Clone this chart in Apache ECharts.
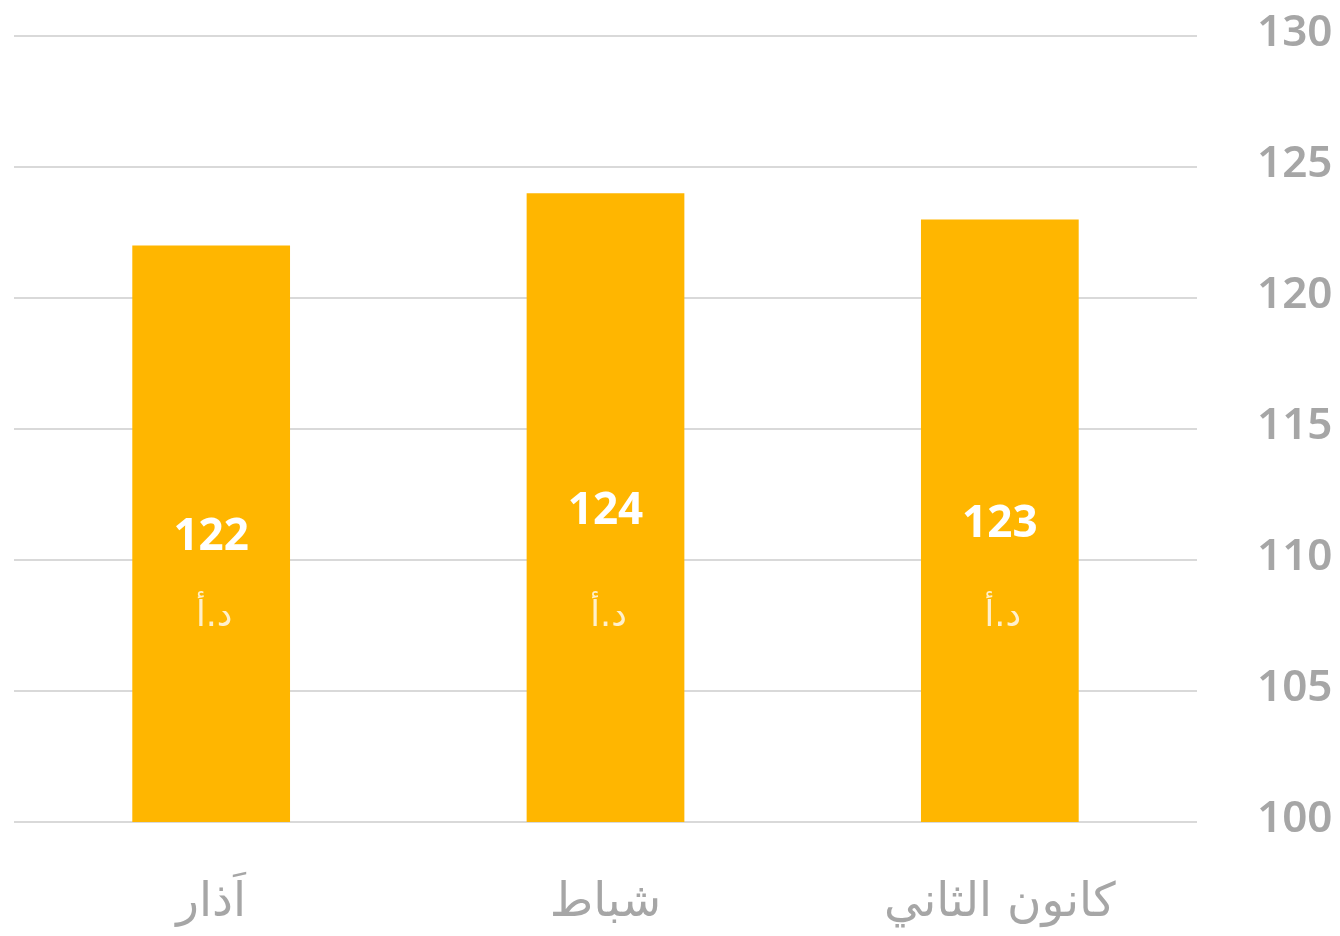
<!DOCTYPE html>
<html>
<head>
<meta charset="utf-8">
<script src="https://cdn.jsdelivr.net/npm/echarts@6/dist/echarts.min.js"></script>
<style>
  html, body { margin: 0; padding: 0; background: #fff; }
  #chart { width: 1340px; height: 936px; }
</style>
</head>
<body>
<div id="chart"></div>
<script>
// months, in time order (axis is drawn right-to-left)
var months = ["كانون الثاني", "شباط", "اَذار"];
var prices = [123, 124, 122];
var unitText = "د.أ";
var yTicks = [100, 105, 110, 115, 120, 125, 130];

var chart = echarts.init(document.getElementById("chart"));

var option = {
  animation: false,
  textStyle: { fontFamily: "'Noto Sans', 'DejaVu Sans', sans-serif" },
  grid: { left: 14, right: 143, top: 36, bottom: 114 },
  xAxis: {
    type: "category",
    data: months,
    inverse: true,
    axisLine: { show: false },
    axisTick: { show: false },
    axisLabel: {
      margin: 58,
      fontSize: 47,
      color: "#a6a6a6",
      fontFamily: "'DejaVu Sans', sans-serif"
    }
  },
  yAxis: {
    type: "value",
    position: "right",
    min: yTicks[0],
    max: yTicks[yTicks.length - 1],
    interval: 5,
    axisLine: { show: false },
    axisTick: { show: false },
    splitLine: { lineStyle: { color: "#d9d9d9", width: 2 } },
    axisLabel: {
      margin: 60,
      fontSize: 44,
      fontWeight: 600,
      color: "#a6a6a6",
      verticalAlign: "bottom",
      lineHeight: 6
    }
  },
  series: [
    {
      type: "bar",
      data: prices,
      barWidth: "40%",
      itemStyle: { color: "#FFB600" },
      label: {
        show: true,
        position: "inside",
        offset: [0, 4],
        color: "#fff",
        fontSize: 44,
        fontWeight: "bold"
      }
    },
    {
      // currency text sits at the same height in every bar
      type: "scatter",
      data: prices.map(function () { return 108; }),
      symbolSize: 0,
      silent: true,
      z: 5,
      label: {
        show: true,
        position: "inside",
        offset: [3, 5],
        formatter: unitText,
        color: "#fff",
        fontSize: 35,
        fontFamily: "'DejaVu Sans', sans-serif"
      }
    }
  ]
};

chart.setOption(option);
</script>
</body>
</html>
